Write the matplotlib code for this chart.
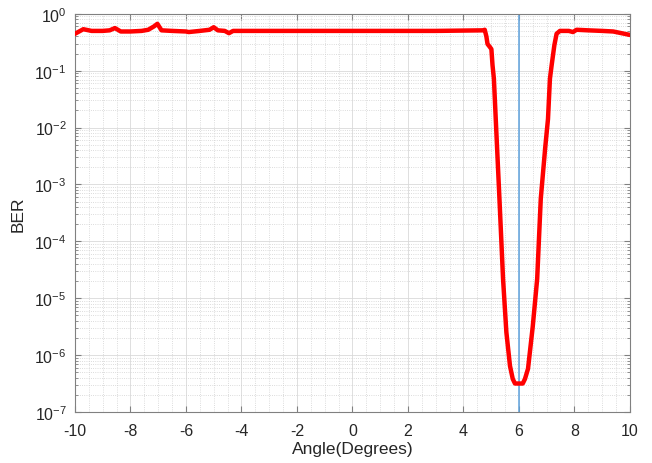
import matplotlib
matplotlib.use("Agg")
import matplotlib.pyplot as plt
import numpy as np
from matplotlib.ticker import LogLocator, MultipleLocator, FixedLocator

plt.rcParams['font.family'] = ['Liberation Sans', 'DejaVu Sans']
plt.rcParams['mathtext.fontset'] = 'custom'
plt.rcParams['mathtext.rm'] = 'Liberation Sans'
plt.rcParams['mathtext.it'] = 'Liberation Sans'
plt.rcParams['axes.unicode_minus'] = False

# Data
angle = [-10.0, -9.7, -9.4, -9.0, -8.75, -8.56, -8.35, -8.0, -7.6, -7.36, -7.15, -7.03,
         -6.88, -6.5, -6.0, -5.9, -5.5, -5.15, -5.0, -4.85, -4.6, -4.45, -4.3, -3.0,
         0.0, 3.0, 4.70, 4.77, 4.83, 4.87, 4.95, 5.01, 5.05, 5.10, 5.20, 5.30, 5.43,
         5.55, 5.68, 5.78, 5.86, 6.14, 6.22, 6.33, 6.50, 6.66, 6.79, 6.95, 7.05, 7.12,
         7.18, 7.28, 7.36, 7.48, 7.8, 7.95, 8.08, 8.5, 9.0, 9.4, 9.7, 10.0]
log_ber = [-0.35, -0.27, -0.30, -0.30, -0.29, -0.25, -0.31, -0.31, -0.30, -0.28, -0.22, -0.175,
           -0.29, -0.30, -0.31, -0.32, -0.30, -0.28, -0.235, -0.29, -0.30, -0.34, -0.30, -0.30,
           -0.30, -0.30, -0.29, -0.28, -0.40, -0.53, -0.58, -0.62, -0.90, -1.14, -2.20, -3.25, -4.66,
           -5.60, -6.19, -6.42, -6.50, -6.50, -6.42, -6.24, -5.50, -4.66, -3.25, -2.35, -1.85, -1.14,
           -0.91, -0.55, -0.35, -0.30, -0.30, -0.32, -0.28, -0.29, -0.30, -0.31, -0.34, -0.37]
ber = 10.0 ** np.array(log_ber)
target_angle = 6

fig = plt.figure(figsize=(6.52, 4.64), dpi=100)
ax = fig.add_axes([0.115, 0.110, 0.851, 0.858])

ax.plot(angle, ber, color='#ff0000', linewidth=3.2, zorder=3, solid_joinstyle='round')
ax.axvline(target_angle, color='#5fa2dd', linewidth=1.1, zorder=2)

ax.set_yscale('log')
ax.set_xlim(-10, 10)
ax.set_ylim(1e-7, 1)
ax.set_xticks(np.arange(-10, 11, 2))
ax.xaxis.set_minor_locator(MultipleLocator(0.5))
ax.yaxis.set_major_locator(FixedLocator([10.0 ** k for k in range(-7, 1)]))
ax.yaxis.set_minor_locator(LogLocator(base=10, subs=np.arange(2, 10), numticks=20))
ax.set_yticklabels([r'$10^{%d}$' % k for k in range(-7, 1)])

ax.grid(True, which='major', color='#d9d9d9', linestyle='-', linewidth=0.6)
ax.grid(True, which='minor', color='#d0d0d0', linestyle=':', linewidth=0.6)
ax.set_axisbelow(True)

ax.tick_params(which='both', direction='in', top=True, right=True,
               colors='#808080', labelcolor='#262626', labelsize=11.5)
ax.tick_params(which='major', length=4)
ax.tick_params(which='minor', length=2)
ax.tick_params(axis='x', which='minor', length=0)
ax.tick_params(axis='x', which='major', pad=8)
ax.tick_params(axis='y', which='major', pad=6)
for s in ax.spines.values():
    s.set_color('#808080')
    s.set_linewidth(0.8)

ax.set_xlabel('Angle(Degrees)', fontsize=12.5, color='#262626', labelpad=2)
ax.set_ylabel('BER', fontsize=12.5, color='#262626', labelpad=6)

fig.savefig('out.png', dpi=100)
